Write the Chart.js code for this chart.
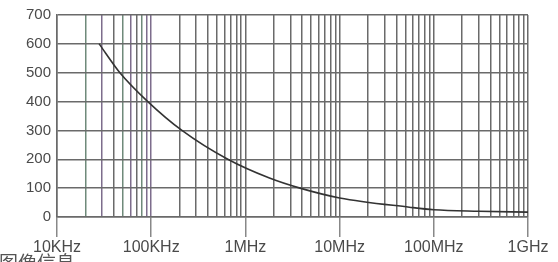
<!DOCTYPE html>
<html>
<head>
<meta charset="utf-8">
<script src="https://cdn.jsdelivr.net/npm/chart.js@4"></script>
<style>
  html, body { margin: 0; padding: 0; background: #fff; }
  #wrap { width: 558px; height: 262px; }
</style>
</head>
<body>
<div id="wrap"><canvas id="impChart" width="558" height="262"></canvas></div>
<script>
// curve (Hz -> value)
const freqHz = [28e3, 46.5e3, 92e3, 212e3, 650e3, 1.8e6, 3.8e6, 10e6, 55e6, 100e6, 300e6, 1e9];
const impedance = [600, 500, 400, 300, 200, 135, 100, 66, 34, 25, 20, 17];

// axis ticks
const decadeHz = [1e4, 1e5, 1e6, 1e7, 1e8, 1e9];
const decadeLabels = ["10KHz", "100KHz", "1MHz", "10MHz", "100MHz", "1GHz"];
const yTicks = [0, 100, 200, 300, 400, 500, 600, 700];
const footText = "图像信息";

// grid lines at 1..9 of every decade
const gridHz = [];
for (let d = 0; d < decadeHz.length - 1; d++) {
  for (let m = 1; m < 10; m++) gridHz.push(decadeHz[d] * m);
}
gridHz.push(decadeHz[decadeHz.length - 1]);

const isDecade = (v) => decadeHz.some((d) => Math.abs(d - v) / d < 1e-6);

// slightly tinted lines in the first decade (scan colours)
function gridColor(v) {
  if (v < 1e5 * 1.01) {
    const m = Math.round(v / 1e4);
    if (m === 2 || m === 5 || m === 8) return "#6f8a7a";
    if (m === 3 || m === 6 || m === 9 || m === 10) return "#7d6d8c";
  }
  return "#6a6a6a";
}

const footPlugin = {
  id: "foot",
  afterDraw(chart) {
    const c = chart.ctx;
    c.save();
    c.fillStyle = "#555";
    c.font = "19px 'Noto Sans CJK SC'";
    c.textBaseline = "top";
    c.fillText(footText, -1, 253);
    c.restore();
  },
};

const ctx = document.getElementById("impChart").getContext("2d");
const chart = new Chart(ctx, {
  type: "line",
  data: {
    datasets: [
      {
        data: freqHz.map((f, i) => ({ x: f, y: impedance[i] })),
        borderColor: "#333",
        borderWidth: 1.6,
        pointRadius: 0,
        fill: false,
        cubicInterpolationMode: "monotone",
      },
    ],
  },
  options: {
    responsive: false,
    animation: false,
    layout: { padding: { top: 14, right: 30, left: 0, bottom: 0 } },
    plugins: { legend: { display: false }, tooltip: { enabled: false } },
    scales: {
      x: {
        type: "logarithmic",
        min: 1e4,
        max: 1e9,
        afterBuildTicks: (scale) => {
          scale.ticks = gridHz.map((v) => ({ value: v }));
        },
        afterFit: (scale) => {
          scale.height = 45;
        },
        grid: {
          color: (c) => gridColor(c.tick ? c.tick.value : 0),
          lineWidth: 1.5,
          tickLength: 20,
          tickColor: (c) => (c.tick && isDecade(c.tick.value) ? "#888" : "rgba(0,0,0,0)"),
          tickWidth: 1.5,
        },
        border: { color: "#6a6a6a", width: 1.5 },
        ticks: {
          autoSkip: false,
          maxRotation: 0,
          padding: 1,
          color: "#4a4a4a",
          font: { family: "'Liberation Sans', Arial", size: 16 },
          callback: (v) => {
            const i = decadeHz.findIndex((d) => Math.abs(d - v) / d < 1e-6);
            return i >= 0 ? decadeLabels[i] : "";
          },
        },
      },
      y: {
        min: 0,
        max: 700,
        afterBuildTicks: (scale) => {
          scale.ticks = yTicks.map((v) => ({ value: v }));
        },
        afterFit: (scale) => {
          scale.width = 57;
        },
        grid: { color: "#6a6a6a", lineWidth: 1.5, drawTicks: false },
        border: { color: "#6a6a6a", width: 1.5 },
        ticks: {
          padding: 6,
          color: "#4a4a4a",
          font: { family: "'Liberation Sans', Arial", size: 15 },
        },
      },
    },
  },
  plugins: [footPlugin],
});
</script>
</body>
</html>
